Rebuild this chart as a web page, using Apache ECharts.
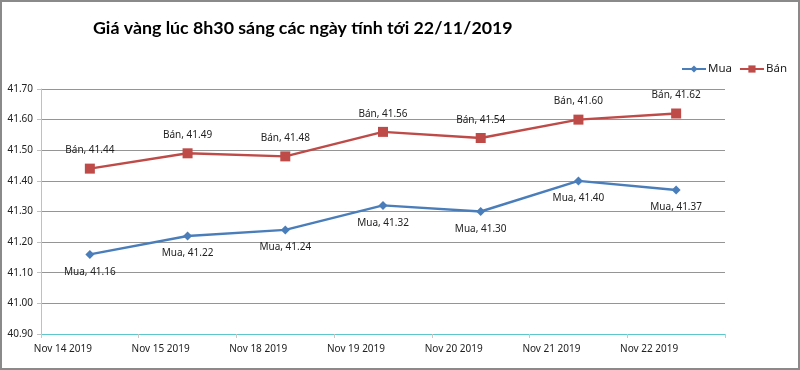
<!DOCTYPE html>
<html><head><meta charset="utf-8">
<script src="https://cdn.jsdelivr.net/npm/echarts@6/dist/echarts.min.js"></script>
<style>
html,body{margin:0;padding:0;background:#fff;}
#frame{position:absolute;left:0;top:0;width:796px;height:366px;border:2px solid #8a8a8a;}
#c{position:absolute;left:0;top:0;width:800px;height:370px;}
</style></head>
<body><div id="c"></div><div id="frame"></div>
<script>
const categories = ['Nov 14 2019','Nov 15 2019','Nov 18 2019','Nov 19 2019','Nov 20 2019','Nov 21 2019','Nov 22 2019'];
const muaValues = [41.16, 41.22, 41.24, 41.32, 41.30, 41.40, 41.37];
const banValues = [41.44, 41.49, 41.48, 41.56, 41.54, 41.60, 41.62];
const titleText = 'Giá vàng lúc 8h30 sáng các ngày tính tới 22/11/2019';

const chart = echarts.init(document.getElementById('c'), null, {renderer:'canvas'});
chart.setOption({
  animation:false,
  backgroundColor:'#fff',
  title:{text:titleText,left:88,top:14,textStyle:{fontFamily:'Lato',fontWeight:'bold',fontSize:17.8,color:'#000'}},
  legend:{right:8,top:58,itemGap:7,itemWidth:24,itemHeight:9,
    textStyle:{fontFamily:'Noto Sans',fontSize:11.5,color:'#222',padding:[0,0,0,-3]},
    data:[{name:'Mua'},{name:'Bán'}]},
  grid:{left:41,right:75,top:89,bottom:36},
  xAxis:{type:'category',data:categories,boundaryGap:true,
    axisLine:{lineStyle:{color:'#5cc8cc',width:1}},
    axisTick:{show:true,length:4,lineStyle:{color:'#c8c8c8'}},
    axisLabel:{fontFamily:'Noto Sans',fontSize:10,color:'#222',padding:[0,54,0,0],margin:10}},
  yAxis:{type:'value',min:40.9,max:41.7,interval:0.1,
    axisLine:{show:true,lineStyle:{color:'#c0c0c0'}},
    axisTick:{show:true,length:4,lineStyle:{color:'#c0c0c0'}},
    splitLine:{lineStyle:{color:'#959595',width:1}},
    axisLabel:{fontFamily:'Noto Sans',fontSize:10,color:'#222',margin:8,formatter:v=>v.toFixed(2)}},
  series:[
    {name:'Mua',type:'line',data:muaValues,symbol:'diamond',symbolSize:9,
      lineStyle:{color:'#4a7ebb',width:2.5},itemStyle:{color:'#4a7ebb'},
      label:{show:true,position:'bottom',distance:8,fontFamily:'Noto Sans',fontSize:10,color:'#222',
        formatter:p=>'Mua, '+p.value.toFixed(2)}},
    {name:'Bán',type:'line',data:banValues,symbol:'rect',symbolSize:10,
      lineStyle:{color:'#be4b48',width:2.5},itemStyle:{color:'#be4b48'},
      label:{show:true,position:'top',distance:8,fontFamily:'Noto Sans',fontSize:10,color:'#222',
        formatter:p=>'Bán, '+p.value.toFixed(2)}}
  ]
});
</script></body></html>
